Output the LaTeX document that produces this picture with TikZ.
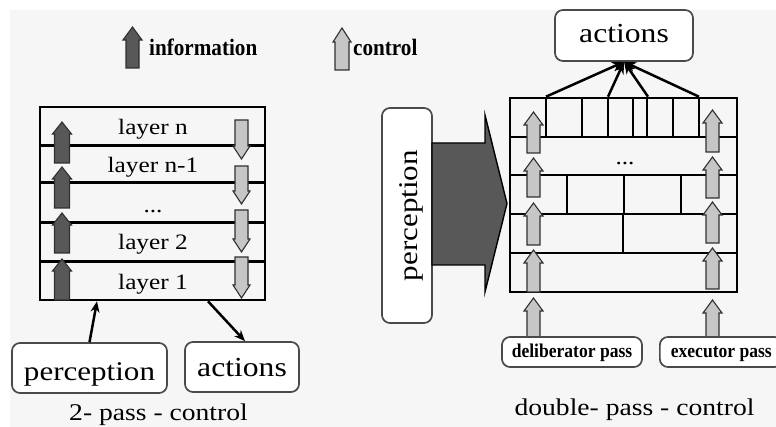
\documentclass[tikz,border=0pt]{standalone}
\usepackage{fontspec}
\setmainfont{Liberation Serif}[FakeStretch=1.15]
\newfontfamily\lblfont{Liberation Serif}[FakeStretch=0.9]
\usetikzlibrary{arrows.meta,calc}
\definecolor{bg}{HTML}{F6F6F6}
\definecolor{boxgray}{HTML}{4A4A4A}
\definecolor{darkfill}{HTML}{585858}
\definecolor{lightfill}{HTML}{C6C6C6}
\definecolor{arrline}{HTML}{303030}
\newcommand\fs[1]{\fontsize{#1}{#1}\selectfont}
\newcommand\blk[7]{%
  \draw[#7] ({#1-#5},#4) -- ({#1-#5},#3) -- ({#1-#6},#3) -- (#1,#2) -- ({#1+#6},#3) -- ({#1+#5},#3) -- ({#1+#5},#4) -- cycle;}
\tikzset{
  rbox/.style={draw=boxgray, line width=1.7pt, rounded corners=8pt, fill=white, inner sep=0pt},
  frame/.style={draw=black, line width=2.6pt, inner sep=0pt},
  sep/.style={draw=black, line width=3pt},
  gline/.style={draw=black, line width=2.5pt},
  darkarr/.style={fill=darkfill, draw=arrline, line width=1.1pt},
  lightarr/.style={fill=lightfill, draw=arrline, line width=1.1pt},
  conn/.style={draw=black, line width=2.5pt, -{Stealth[length=11pt,width=9pt]}},
  burst/.style={draw=black, line width=2.5pt, -{Stealth[length=12pt,width=10pt]}},
  lay/.style={anchor=base, inner sep=0pt, font=\fs{22}},
  captext/.style={anchor=base, inner sep=0pt, font=\fs{24}},
  leg/.style={anchor=base west, inner sep=0pt, font=\lblfont\bfseries\fs{23.5}},
}
\begin{document}
\begin{tikzpicture}[x=1pt,y=-1pt]
\fill[white] (0,0) rectangle (776,427);
\fill[bg] (10,10) rectangle (776,427);
\useasboundingbox (0,0) rectangle (776,427);

% legend
\blk{132.5}{27}{40}{68}{6.5}{9.5}{darkarr}
\node[leg] (linfo) at (149,56) {information};
\blk{342}{28}{42}{70}{7}{9}{lightarr}
\node[leg] (lctrl) at (353,56) {control};

% left: layer box
\node[frame, minimum width=225pt, minimum height=193pt] (lbox) at (152.5,203.5) {};
\draw[sep] (40,146) -- (265,146);
\draw[sep] (40,183) -- (265,183);
\draw[sep] (40,223) -- (265,223);
\draw[sep] (40,262) -- (265,262);
\node[lay] (ln) at (153,135) {layer n};
\node[lay] (ln1) at (153,173) {layer n-1};
\node[lay] (ldots) at (153,213) {...};
\node[lay] (l2) at (153,250) {layer 2};
\node[lay] (l1) at (153,290) {layer 1};
\blk{62}{122}{134}{163}{7.5}{9.5}{darkarr}
\blk{62}{167}{179}{208}{7.5}{9.5}{darkarr}
\blk{62}{213}{225}{253}{7.5}{9.5}{darkarr}
\blk{62}{259}{271}{300}{7.5}{9.5}{darkarr}
\blk{241.5}{159}{146}{120}{6.5}{8.5}{lightarr}
\blk{241.5}{204}{191}{166}{6.5}{8.5}{lightarr}
\blk{241.5}{252}{239}{210}{6.5}{8.5}{lightarr}
\blk{241.5}{298}{285}{257}{6.5}{8.5}{lightarr}

\node[rbox, minimum width=155pt, minimum height=50pt, text height=24pt, text depth=0pt, font=\fs{27}] (pl) at (89.5,368) {perception};
\node[rbox, minimum width=114pt, minimum height=50pt, text height=20pt, text depth=0pt, font=\fs{27.5}] (al) at (242,367) {actions};
\draw[conn] (pl.north) -- ([xshift=-55.5pt]lbox.south);
\draw[conn] ([xshift=55.5pt]lbox.south) -- ([xshift=3pt]al.north);
\node[captext] (capl) at (158.5,420) {2- pass - control};

% right: double pass
\node[rbox, minimum width=138pt, minimum height=51pt, text height=15pt, text depth=0pt, font=\fs{27.5}] (ar) at (624,35.5) {actions};
\node[rbox, rotate=90, minimum width=215pt, minimum height=50pt, text height=20pt, text depth=0pt, font=\fs{27}] (pr) at (407,215.5) {perception};
\draw[fill=darkfill, draw=black, line width=1.4pt, line join=miter]
  (432,143) -- (485,143) -- (485,115) -- (507,203.5) -- (485,292) -- (485,265) -- (432,265) -- cycle;

\node[frame, minimum width=227pt, minimum height=194pt] (grid) at (623.5,195) {};
\draw[gline] (510,137) -- (737,137);
\draw[gline] (510,175) -- (737,175);
\draw[gline] (510,214) -- (737,214);
\draw[gline] (510,253) -- (737,253);
\foreach \xx in {546,582,608,633,647,673,699} \draw[gline] (\xx,98) -- (\xx,137);
\foreach \xx in {567,624,681} \draw[gline] (\xx,175) -- (\xx,214);
\draw[gline] (623,214) -- (623,253);
\node[anchor=base, inner sep=0pt, font=\fs{22}] (gdots) at (625,165) {...};

\draw[burst] ([xshift=-77.5pt]grid.north) -- (ar.south);
\draw[burst] ([xshift=-15.5pt]grid.north) -- (ar.south);
\draw[burst] ([xshift=24.5pt]grid.north) -- (ar.south);
\draw[burst] ([xshift=75.5pt]grid.north) -- (ar.south);

\foreach \t/\b in {112/153,158/197,203/245,250/292,298/338}
  {\blk{533.5}{\t}{\t+13}{\b}{6.5}{9.5}{lightarr}}
\foreach \t/\b in {110/152,157/198,202/243,248/289,300/342}
  {\blk{712.5}{\t}{\t+13}{\b}{6.5}{9.5}{lightarr}}

\node[rbox, minimum width=140pt, minimum height=30pt, text height=12pt, text depth=0pt, font=\lblfont\bfseries\fs{19.5}] (dp) at (572,352) {deliberator pass};
\node[rbox, anchor=west, inner xsep=11pt, minimum height=30pt, text height=12pt, text depth=0pt, font=\lblfont\bfseries\fs{19.5}] (ep) at (659,352) {executor pass};
\node[captext] (capr) at (634.5,415) {double- pass - control};
\end{tikzpicture}
\end{document}
